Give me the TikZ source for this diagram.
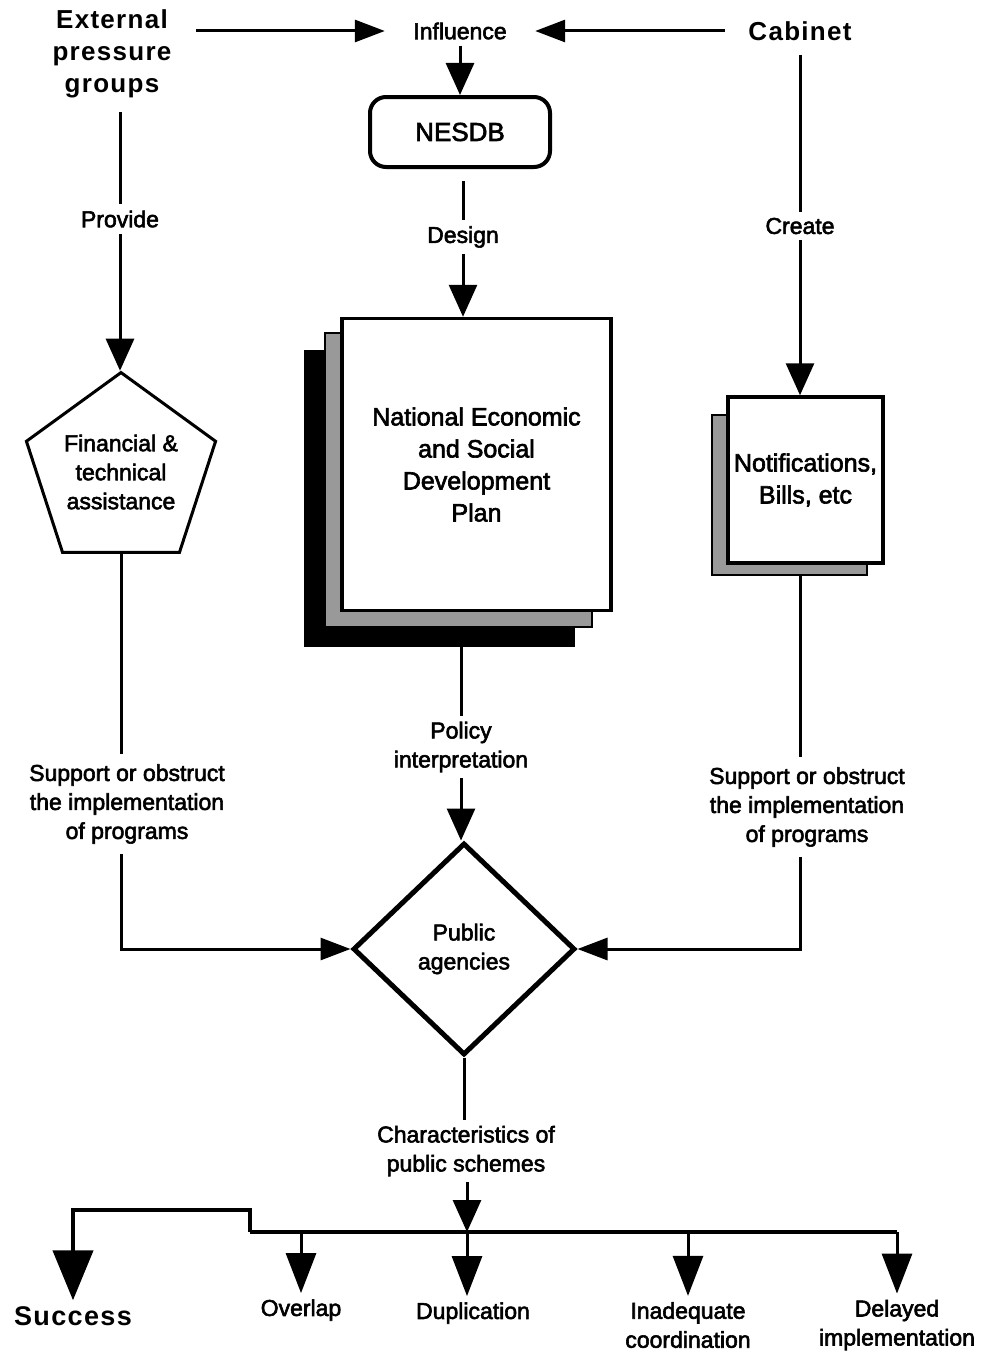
\documentclass[tikz,border=0pt]{standalone}
\usepackage{fontspec}
\setmainfont{Liberation Sans}
\newfontfamily\lblfont{Liberation Sans}[FakeBold=2.5]
\newfontfamily\headfont{Liberation Sans}[LetterSpace=5]
\usetikzlibrary{arrows.meta,shapes.geometric}

\begin{document}
\begin{tikzpicture}[x=1pt,y=-1pt,
  lbl/.style={font=\lblfont\fontsize{23}{29}\selectfont, align=center, inner xsep=0pt, inner ysep=6pt},
  boxtxt/.style={font=\lblfont\fontsize{25}{32}\selectfont, align=center},
  head/.style={font=\headfont\bfseries\fontsize{26}{32}\selectfont, align=center, inner ysep=6pt},
  wire/.style={line width=3pt},
  arr/.style={wire, -{Triangle[length=32pt,width=28pt]}},
  harr/.style={wire, -{Triangle[length=30pt,width=22pt]}},
  barr/.style={wire, -{Triangle[length=40pt,width=30pt]}},
  bigarr/.style={line width=4.5pt, -{Triangle[length=50pt,width=40pt]}},
  sheet/.style={draw, line width=3.5pt, fill=white, inner sep=0pt},
  undersheet/.style={draw, line width=1.5pt, fill=black!40, inner sep=0pt},
  blacksheet/.style={fill=black, inner sep=0pt},
]
\useasboundingbox (0,0) rectangle (991,1354);

% ---- top row ----
\node[head, text width=120pt, inner xsep=24pt, inner ysep=14pt] (ext) at (112,54) {External\\pressure\\groups};
\node[lbl, text width=100pt, inner xsep=25pt] (infl) at (460,31) {Influence};
\node[head, text width=110pt, inner xsep=20pt, inner ysep=14pt] (cab) at (800,31) {Cabinet};

\draw[harr] (ext.east |- infl.west) -- (infl.west);
\draw[harr] (cab.west |- infl.east) -- (infl.east);

% ---- centre column ----
\node[draw, line width=4pt, rounded corners=16pt, minimum width=180pt, minimum height=70pt,
      boxtxt, font=\lblfont\fontsize{26}{32}\selectfont] (nesdb) at (460,132) {NESDB};
\draw[arr] (infl.south) -- (nesdb.north);

\node[lbl] (design) at (463,237) {Design};

\node[blacksheet, minimum width=271pt, minimum height=297pt] (planback) at (439.5,498.5) {};
\node[undersheet, minimum width=267pt, minimum height=294pt] (planmid) at (458.5,480) {};
\node[sheet, boxtxt, minimum width=269pt, minimum height=292pt] (plan) at (476.5,464.5)
  {National Economic\\and Social\\Development\\Plan};

\draw[wire] (design.north |- nesdb.south) ++(0,12) -- (design.north);
\draw[arr] (design.south) -- (design.south |- plan.north);

\node[lbl] (policy) at (461,747) {Policy\\interpretation};
\draw[wire] (policy.north |- planback.south) -- (policy.north);

\node[draw, line width=5pt, diamond, aspect=1, minimum width=222pt, minimum height=212pt,
      inner sep=0pt, boxtxt, font=\lblfont\fontsize{23}{29}\selectfont] (pa) at (464,949) {Public\\agencies};
\draw[arr] (policy.south) -- (policy.south |- pa.north);

% ---- left column ----
\node[lbl] (provide) at (120,219) {Provide};
\draw[wire] (provide.north |- ext.south) -- (provide.north);

\node[draw, line width=3pt, regular polygon, regular polygon sides=5, minimum size=194pt,
      inner sep=0pt, lbl, inner ysep=0pt] (fin) at (121,472) {Financial \&\\technical\\assistance};
\draw[arr] (provide.south) -- (provide.south |- fin.north);

\node[lbl, inner ysep=10pt] (sup1) at (127,804) {Support or obstruct\\the implementation\\of programs};
\draw[wire] (fin.south) -- (fin.south |- sup1.north);
\draw[harr] (fin.south |- sup1.south) |- (pa.west);

% ---- right column ----
\node[lbl] (create) at (800,226) {Create};
\draw[wire] (create.north |- cab.south) -- (create.north);

\node[undersheet, minimum width=155pt, minimum height=160pt] (notifmid) at (789.5,495) {};
\node[sheet, boxtxt, minimum width=155pt, minimum height=166pt] (notif) at (805.5,480)
  {Notifications,\\Bills, etc};
\draw[arr] (create.south) -- (create.south |- notif.north);

\node[lbl, inner ysep=10pt] (sup2) at (807,807) {Support or obstruct\\the implementation\\of programs};
\draw[wire] (create.south |- notifmid.south) -- (create.south |- sup2.north);
\draw[harr] (create.south |- sup2.south) |- (pa.east);

% ---- outcomes ----
\node[lbl] (chars) at (466,1151) {Characteristics of\\public schemes};
\draw[wire] (pa.south) -- (pa.south |- chars.north);

\coordinate (hub) at (467,1232);
\coordinate (hubL) at (250,1232);
\coordinate (hubR) at (897,1232);
\coordinate (stepup) at (250,1210);
\draw[arr] (chars.south -| hub) -- (hub);
\draw[line width=4pt] (hubL) -- (hubR);

\node[head, font=\headfont\bfseries\fontsize{27}{32}\selectfont] (success) at (73,1316) {Success};
\node[lbl] (overlap) at (301,1310) {Overlap};
\node[lbl] (dup) at (473,1313) {Duplication};
\node[lbl] (inad) at (688,1325) {Inadequate\\coordination};
\node[lbl] (delay) at (897,1325) {Delayed\\implementation};

\draw[bigarr] (hubL) -- (stepup) -| (success.north);
\draw[barr] (hubL -| overlap.north) -- (overlap.north);
\draw[barr] (hub) -- (hub |- dup.north);
\draw[barr] (hubL -| inad.north) -- (inad.north);
\draw[barr] (hubR) -- (hubR |- delay.north);
\end{tikzpicture}
\end{document}
